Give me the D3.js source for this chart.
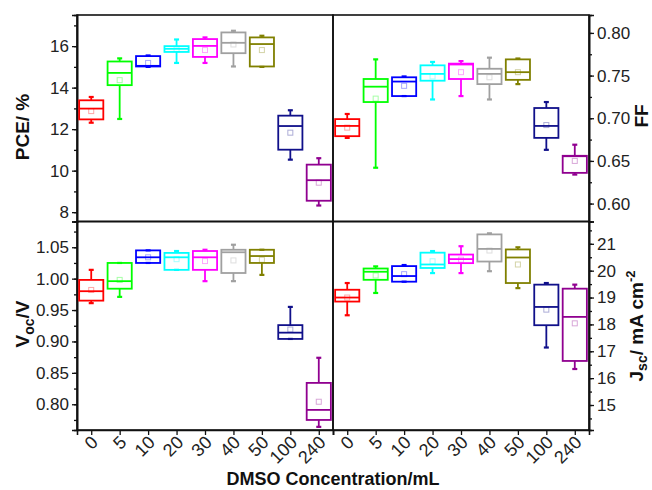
<!DOCTYPE html>
<html>
<head>
<meta charset="utf-8">
<script src="https://cdn.jsdelivr.net/npm/d3@7"></script>
<style>
  body { margin: 0; background: #fff; }
  text { font-family: "Liberation Sans", Arial, sans-serif; }
</style>
</head>
<body>
<div class="chart"></div>
<script>
var cats = ["0", "5", "10", "20", "30", "40", "50", "100", "240"];
var colors = ["#ff0000", "#00ff00", "#0000ff", "#00ffff", "#ff00ff",
              "#a0a0a0", "#808000", "#10108a", "#900090"];

// each row: [whisker low, Q1, median, Q3, whisker high, mean]
var pce = [
  [12.31, 12.47, 12.99, 13.39, 13.55, 12.87],
  [12.49, 14.12, 14.71, 15.26, 15.41, 14.36],
  [15.00, 15.02, 15.05, 15.52, 15.55, 15.19],
  [15.19, 15.72, 15.87, 16.00, 16.32, 15.84],
  [15.19, 15.48, 16.01, 16.34, 16.42, 15.81],
  [15.02, 15.66, 16.16, 16.66, 16.74, 16.08],
  [15.00, 15.02, 16.10, 16.42, 16.50, 15.81],
  [10.53, 11.01, 12.15, 12.65, 12.91, 11.83],
  [8.32, 8.55, 9.54, 10.29, 10.60, 9.42]
];
var ff = [
  [0.677, 0.679, 0.691, 0.699, 0.705, 0.689],
  [0.642, 0.719, 0.737, 0.746, 0.769, 0.723],
  [0.726, 0.726, 0.743, 0.748, 0.749, 0.738],
  [0.722, 0.744, 0.752, 0.762, 0.766, 0.749],
  [0.726, 0.746, 0.763, 0.764, 0.767, 0.754],
  [0.722, 0.740, 0.752, 0.758, 0.771, 0.748],
  [0.740, 0.745, 0.754, 0.769, 0.770, 0.754],
  [0.663, 0.677, 0.691, 0.712, 0.719, 0.692],
  [0.634, 0.636, 0.6555, 0.656, 0.669, 0.650]
];
var voc = [
  [0.961, 0.965, 0.980, 0.998, 1.014, 0.982],
  [0.971, 0.984, 0.996, 1.025, 1.025, 0.998],
  [1.025, 1.025, 1.034, 1.045, 1.045, 1.034],
  [1.014, 1.014, 1.034, 1.041, 1.044, 1.031],
  [0.996, 1.014, 1.034, 1.044, 1.046, 1.028],
  [0.996, 1.009, 1.042, 1.046, 1.054, 1.029],
  [1.006, 1.025, 1.036, 1.046, 1.046, 1.030],
  [0.904, 0.904, 0.914, 0.926, 0.955, 0.919],
  [0.764, 0.775, 0.791, 0.834, 0.874, 0.804]
];
var jsc = [
  [18.34, 18.85, 19.00, 19.29, 19.54, 19.00],
  [19.17, 19.66, 19.96, 20.08, 20.16, 19.82],
  [19.59, 19.59, 19.80, 20.17, 20.21, 19.87],
  [19.91, 20.10, 20.23, 20.67, 20.73, 20.35],
  [19.91, 20.28, 20.43, 20.60, 20.91, 20.41],
  [19.98, 20.34, 20.81, 21.35, 21.39, 20.75],
  [19.35, 19.54, 20.49, 20.79, 20.87, 20.23],
  [17.14, 17.97, 18.65, 19.48, 19.54, 18.55],
  [16.34, 16.64, 18.28, 19.33, 19.48, 18.04]
];

var pceTicks = [8, 10, 12, 14, 16];
var ffTicks = [0.60, 0.65, 0.70, 0.75, 0.80];
var vocTicks = [0.80, 0.85, 0.90, 0.95, 1.00, 1.05];
var jscTicks = [15, 16, 17, 18, 19, 20, 21];

var W = 652, H = 490;
var L = 77, M = 333, R = 589, T = 15, MID = 221.5, B = 430;

var svg = d3.select(".chart")
  .append("svg")
    .attr("width", W)
    .attr("height", H);

var panels = [
  {data: pce, domain: [7.55, 17.5], ticks: pceTicks, minor: 1, fmt: d3.format("d"),
   x0: L, x1: M, y0: T, y1: MID, side: "left"},
  {data: ff, domain: [0.579, 0.821], ticks: ffTicks, minor: 0.025, fmt: d3.format(".2f"),
   x0: M, x1: R, y0: T, y1: MID, side: "right"},
  {data: voc, domain: [0.759, 1.091], ticks: vocTicks, minor: 0.025, fmt: d3.format(".2f"),
   x0: L, x1: M, y0: MID, y1: B, side: "left", bottom: true},
  {data: jsc, domain: [14.07, 21.83], ticks: jscTicks, minor: 0.5, fmt: d3.format("d"),
   x0: M, x1: R, y0: MID, y1: B, side: "right", bottom: true}
];

panels.forEach(function(p) {
  var x = d3.scalePoint()
      .domain(cats)
      .range([p.x0, p.x1])
      .padding(0.5);
  var y = d3.scaleLinear()
      .domain(p.domain)
      .range([p.y1, p.y0]);
  var bw = x.step() * 0.85;

  var minorVals = d3.range(Math.ceil(p.domain[0] / p.minor), Math.floor(p.domain[1] / p.minor) + 1)
      .map(function(i) { return i * p.minor; });

  var g = svg.append("g");

  // frame
  g.append("rect")
    .attr("x", p.x0).attr("y", p.y0)
    .attr("width", p.x1 - p.x0).attr("height", p.y1 - p.y0)
    .attr("fill", "none")
    .attr("stroke", "#111")
    .attr("stroke-width", 1.6);

  var axisFn = p.side == "left" ? d3.axisLeft : d3.axisRight;
  var ax = p.side == "left" ? p.x0 : p.x1;

  var minorAxis = axisFn(y).tickValues(minorVals).tickSize(3).tickFormat("");
  g.append("g")
    .attr("class", "minor")
    .attr("transform", "translate(" + ax + ",0)")
    .call(minorAxis);

  var yaxis = axisFn(y).tickValues(p.ticks).tickSize(5).tickPadding(3).tickFormat(p.fmt);
  g.append("g")
    .attr("class", "y axis")
    .attr("transform", "translate(" + ax + ",0)")
    .call(yaxis);

  if (p.bottom) {
    var xaxis = d3.axisBottom(x).tickSize(5).tickFormat(function(d) { return d; });
    var xg = g.append("g")
      .attr("class", "x axis")
      .attr("transform", "translate(0," + p.y1 + ")")
      .call(xaxis);
    xg.selectAll("text")
      .attr("class", "xlab")
      .attr("text-anchor", "end")
      .attr("x", 0).attr("y", 0).attr("dy", "0.35em")
      .attr("transform", "translate(3,9) rotate(-45)");
  }

  // boxes
  var box = g.selectAll(".box")
    .data(p.data)
    .enter()
    .append("g")
      .attr("class", "box")
      .attr("stroke", function(d, i) { return colors[i]; })
      .attr("fill", "none")
      .attr("stroke-width", 1.8);

  var cx = function(d, i) { return x(cats[i]); };

  box.append("line")
    .attr("x1", cx).attr("x2", cx)
    .attr("y1", function(d) { return y(d[4]); })
    .attr("y2", function(d) { return y(d[3]); });
  box.append("line")
    .attr("x1", cx).attr("x2", cx)
    .attr("y1", function(d) { return y(d[1]); })
    .attr("y2", function(d) { return y(d[0]); });
  [0, 4].forEach(function(k) {
    box.append("line")
      .attr("x1", function(d, i) { return cx(d, i) - 2.5; })
      .attr("x2", function(d, i) { return cx(d, i) + 2.5; })
      .attr("y1", function(d) { return y(d[k]); })
      .attr("y2", function(d) { return y(d[k]); })
      .attr("stroke-width", 2.2);
  });
  box.append("rect")
    .attr("x", function(d, i) { return cx(d, i) - bw / 2; })
    .attr("y", function(d) { return y(d[3]); })
    .attr("width", bw)
    .attr("height", function(d) { return y(d[1]) - y(d[3]); });
  box.append("line")
    .attr("x1", function(d, i) { return cx(d, i) - bw / 2; })
    .attr("x2", function(d, i) { return cx(d, i) + bw / 2; })
    .attr("y1", function(d) { return y(d[2]); })
    .attr("y2", function(d) { return y(d[2]); });
  box.append("rect")
    .attr("x", function(d, i) { return cx(d, i) - 2.5; })
    .attr("y", function(d) { return y(d[5]) - 2.5; })
    .attr("width", 5).attr("height", 5)
    .attr("stroke-width", 1)
    .attr("stroke-opacity", 0.35);
});

svg.selectAll(".axis path, .minor path").attr("stroke", "#111").attr("stroke-width", 1.6);
svg.selectAll(".axis line, .minor line").attr("stroke", "#111").attr("stroke-width", 1.3);
svg.selectAll(".axis text")
  .attr("font-size", "17px")
  .attr("fill", "#222")
  .attr("font-family", "Liberation Sans, Arial, sans-serif");
svg.selectAll(".xlab").attr("font-size", "18px");

// axis titles
var title = function(x, y, rot) {
  return svg.append("text")
    .attr("transform", "translate(" + x + "," + y + ") rotate(" + rot + ")")
    .attr("text-anchor", "middle")
    .attr("font-size", "19px")
    .attr("font-weight", "bold")
    .attr("fill", "#111");
};

title(29, 127, -90).text("PCE/ %");
title(648, 116, -90).text("FF");

var v = title(29, 324, -90);
v.append("tspan").text("V");
v.append("tspan").attr("font-size", "14px").attr("dy", "5").text("oc");
v.append("tspan").attr("dy", "-5").text("/V");

var j = title(643, 326, -90);
j.append("tspan").text("J");
j.append("tspan").attr("font-size", "14px").attr("dy", "4").text("sc");
j.append("tspan").attr("dy", "-4").text("/ mA cm");
j.append("tspan").attr("font-size", "13px").attr("dy", "-8").text("-2");

svg.append("text")
  .attr("x", 333)
  .attr("y", 485)
  .attr("text-anchor", "middle")
  .attr("font-size", "18px")
  .attr("font-weight", "bold")
  .attr("fill", "#111")
  .text("DMSO Concentration/mL");
</script>
</body>
</html>
